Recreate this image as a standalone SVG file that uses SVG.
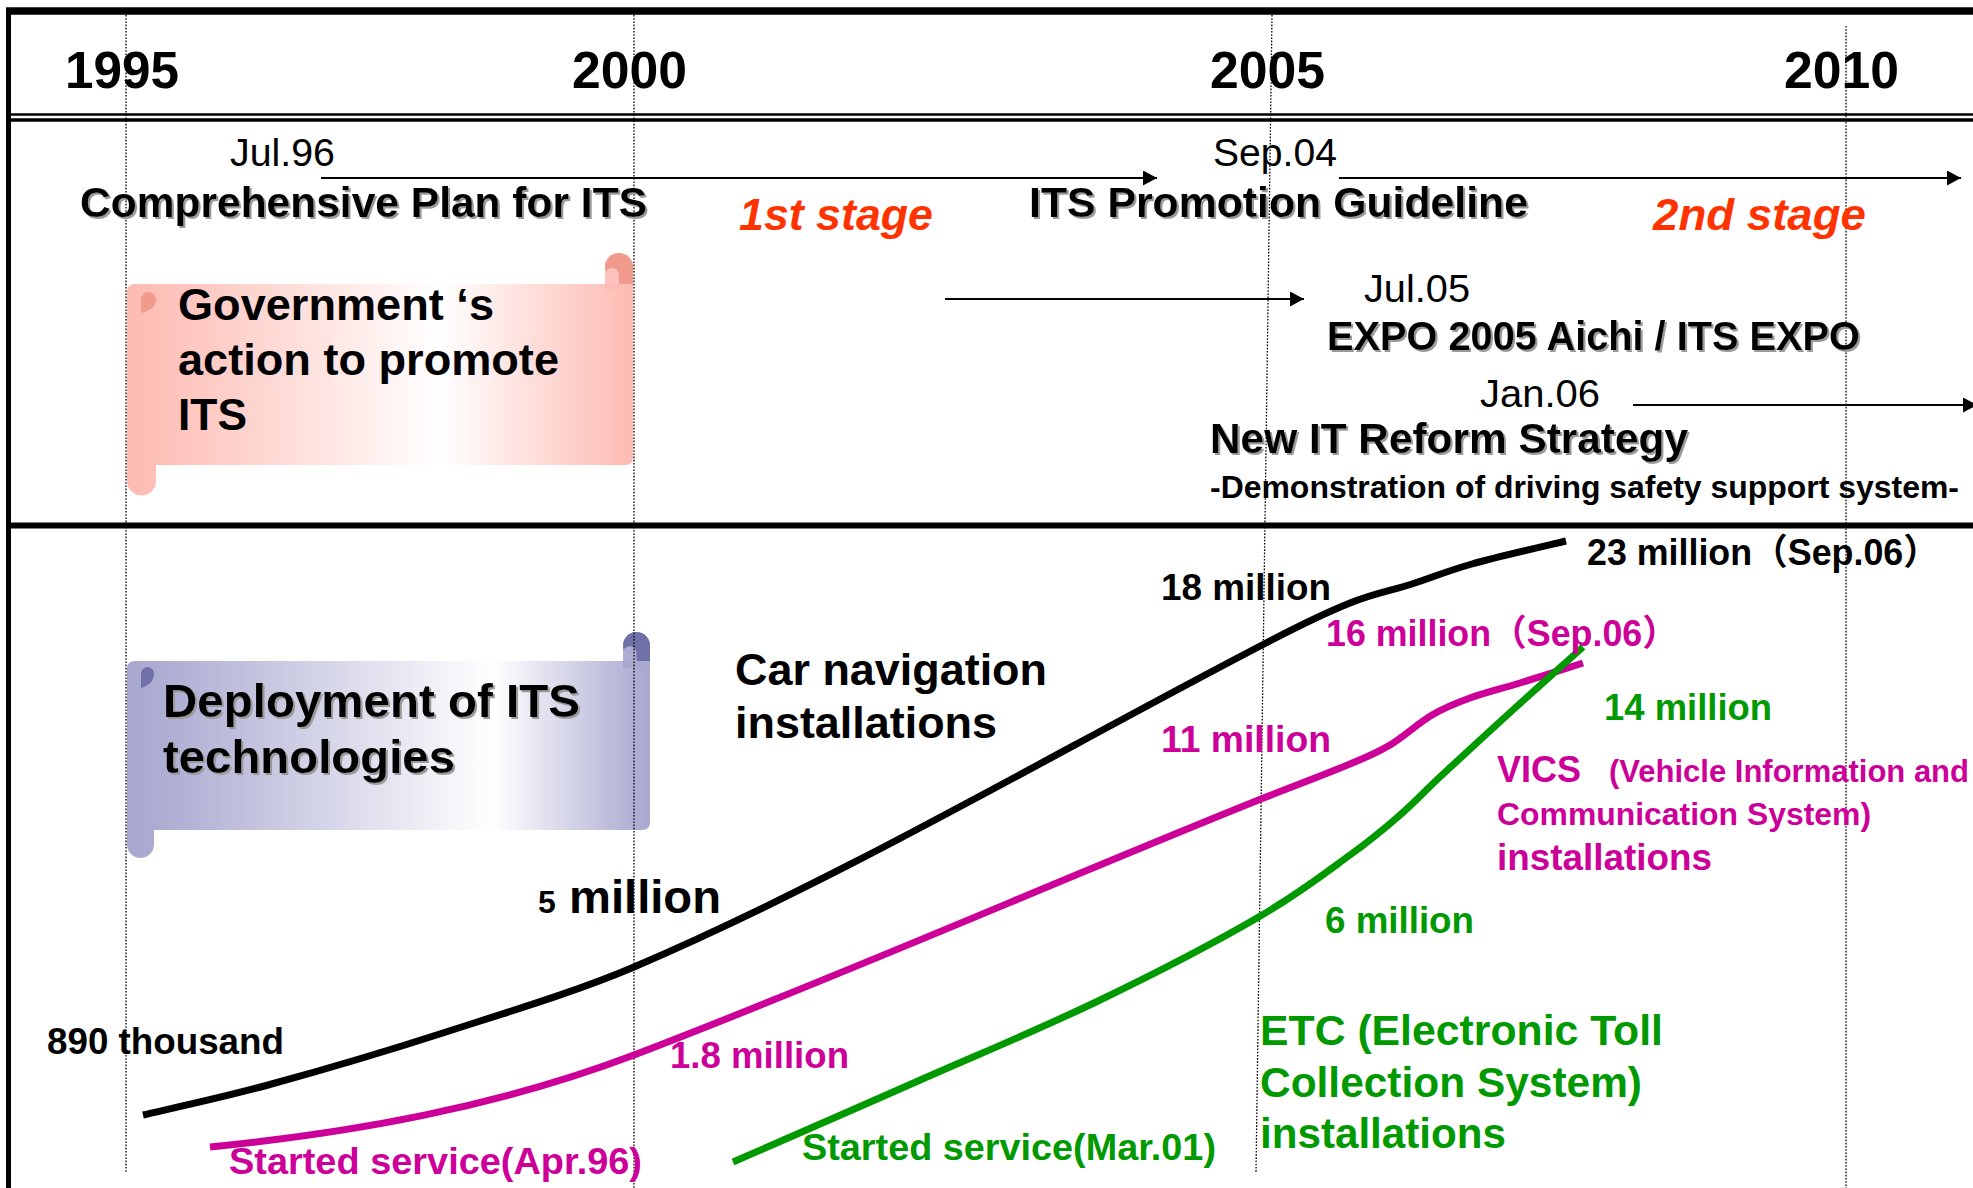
<svg xmlns="http://www.w3.org/2000/svg" width="1973" height="1188" viewBox="0 0 1973 1188">
<style>
.t{font-family:"Liberation Sans",Arial,"Noto Sans CJK JP",sans-serif}
.b{font-weight:bold}
.mag{fill:#CC0099}
.grn{fill:#009900}
.org{fill:#FF3300;font-style:italic;font-weight:bold;font-size:44px}
.yr{font-size:52px;font-weight:bold}
.date{font-size:39px}
.head{font-size:42px;font-weight:bold}
.lbl{font-size:36px;font-weight:bold}
.dot{stroke:#000;stroke-width:1.3;stroke-dasharray:1.6 1.6;fill:none}
.frame{stroke:#000;fill:none}
.curve{fill:none;stroke-width:7;stroke-linecap:butt;stroke-linejoin:round}
.arr{stroke:#000;stroke-width:2;fill:none;marker-end:url(#ah)}
</style>
<defs>
<marker id="ah" markerUnits="userSpaceOnUse" markerWidth="16" markerHeight="16" refX="14" refY="7.5" orient="auto">
<path d="M0,0 L14,7.5 L0,15 Z" fill="#000"/>
</marker>
<filter id="sh" x="-5%" y="-20%" width="110%" height="150%">
<feDropShadow dx="2" dy="2" stdDeviation="0.3" flood-color="#9a9a9a" flood-opacity="1"/>
</filter>
<linearGradient id="gPink" gradientUnits="userSpaceOnUse" x1="127" y1="0" x2="633" y2="0">
<stop offset="0" stop-color="#FDBAB2"/>
<stop offset="0.12" stop-color="#FEC6BF"/>
<stop offset="0.62" stop-color="#FFFFFF"/>
<stop offset="1" stop-color="#FDBAB2"/>
</linearGradient>
<linearGradient id="gBlue" gradientUnits="userSpaceOnUse" x1="127" y1="0" x2="650" y2="0">
<stop offset="0" stop-color="#A7A7CF"/>
<stop offset="0.12" stop-color="#B3B3D6"/>
<stop offset="0.7" stop-color="#FFFFFF"/>
<stop offset="1" stop-color="#A7A7CF"/>
</linearGradient>
</defs>
<rect x="0" y="0" width="1973" height="1188" fill="#fff"/>

<g id="banner-government">
<path d="M127,292 Q127,284 135,284 H633 V457 Q633,465 625,465 H127 Z" fill="url(#gPink)"/>
<path d="M127,460 V481 A14.5,14.5 0 0 0 156,481 V460 Z" fill="url(#gPink)"/>
<path d="M605,290 V267 A14,14 0 0 1 633,267 V290 Z" fill="#FDBDB5"/>
<circle cx="619" cy="267" r="14" fill="#EF9A8B"/>
<rect x="619" y="267" width="14" height="17" fill="#EF9A8B"/>
<path d="M605,284 V275 A7,7 0 0 1 619,275 V284 Z" fill="#FDC2BB"/>
<path d="M148.5,292 A7.5,7.5 0 0 1 156,299.5 Q156,309 141,313 V299.5 A7.5,7.5 0 0 1 148.5,292 Z" fill="#EF9A8B"/>
<text class="t b" font-size="44" x="178" y="320" textLength="316" lengthAdjust="spacingAndGlyphs">Government ‘s</text>
<text class="t b" font-size="44" x="178" y="375" textLength="381" lengthAdjust="spacingAndGlyphs">action to promote</text>
<text class="t b" font-size="44" x="178" y="430" textLength="69" lengthAdjust="spacingAndGlyphs">ITS</text>
</g>

<g id="banner-deployment">
<path d="M127,669 Q127,661 135,661 H650 V822 Q650,830 642,830 H127 Z" fill="url(#gBlue)"/>
<path d="M127,825 V844.5 A13.5,13.5 0 0 0 154,844.5 V825 Z" fill="url(#gBlue)"/>
<path d="M623,668 V645.5 A13.5,13.5 0 0 1 650,645.5 V668 Z" fill="#A9A9D0"/>
<circle cx="636.5" cy="645.5" r="13.5" fill="#7171AA"/>
<rect x="636.5" y="645.5" width="13.5" height="15.5" fill="#7171AA"/>
<path d="M623,661 V653 A6.75,6.75 0 0 1 636.5,653 V661 Z" fill="#ADADD3"/>
<path d="M147.5,667 A6.5,6.5 0 0 1 154,673.5 Q154,684 141,688 V673.5 A6.5,6.5 0 0 1 147.5,667 Z" fill="#7171AA"/>
<text class="t b" font-size="46" x="163" y="717" textLength="417" lengthAdjust="spacingAndGlyphs" filter="url(#sh)">Deployment of ITS</text>
<text class="t b" font-size="46" x="163" y="773" textLength="292" lengthAdjust="spacingAndGlyphs" filter="url(#sh)">technologies</text>
</g>

<g id="gridlines">
<line class="dot" x1="126" y1="15" x2="126" y2="1173"/>
<line class="dot" x1="634" y1="15" x2="634" y2="1188"/>
<line class="dot" x1="1272" y1="15" x2="1256" y2="1173"/>
<line class="dot" x1="1846" y1="26" x2="1846" y2="1188"/>
</g>

<g id="frame">
<line class="frame" x1="6" y1="11" x2="1973" y2="11" stroke-width="7.5"/>
<line class="frame" x1="8.5" y1="8" x2="8.5" y2="1188" stroke-width="5"/>
<line class="frame" x1="8" y1="114.5" x2="1973" y2="114.5" stroke-width="2.5"/>
<line class="frame" x1="8" y1="120" x2="1973" y2="120" stroke-width="3.5"/>
<line class="frame" x1="8" y1="525.5" x2="1973" y2="525.5" stroke-width="6"/>
</g>

<g id="years">
<text class="t yr" x="65" y="88" textLength="114" lengthAdjust="spacingAndGlyphs">1995</text>
<text class="t yr" x="572" y="88" textLength="115" lengthAdjust="spacingAndGlyphs">2000</text>
<text class="t yr" x="1210" y="88" textLength="115" lengthAdjust="spacingAndGlyphs">2005</text>
<text class="t yr" x="1784" y="88" textLength="115" lengthAdjust="spacingAndGlyphs">2010</text>
</g>

<g id="connectors">
<line class="arr" x1="321" y1="178" x2="1157" y2="178"/>
<line class="arr" x1="1339" y1="178" x2="1961" y2="178"/>
<line class="arr" x1="945" y1="299" x2="1304" y2="299"/>
<line class="arr" x1="1633" y1="405" x2="1977" y2="405"/>
</g>

<g id="milestone-comprehensive-plan">
<text class="t date" x="230" y="166" textLength="105" lengthAdjust="spacingAndGlyphs">Jul.96</text>
<text class="t head" x="80" y="217" textLength="567" lengthAdjust="spacingAndGlyphs" filter="url(#sh)">Comprehensive Plan for ITS</text>
</g>
<g id="stage-1">
<text class="t org" x="739" y="230" textLength="194" lengthAdjust="spacingAndGlyphs">1st stage</text>
</g>
<g id="milestone-promotion-guideline">
<text class="t date" x="1213" y="166" textLength="124" lengthAdjust="spacingAndGlyphs">Sep.04</text>
<text class="t head" x="1029" y="217" textLength="499" lengthAdjust="spacingAndGlyphs" filter="url(#sh)">ITS Promotion Guideline</text>
</g>
<g id="stage-2">
<text class="t org" x="1653" y="230" textLength="213" lengthAdjust="spacingAndGlyphs">2nd stage</text>
</g>
<g id="milestone-expo">
<text class="t date" x="1364" y="302" textLength="106" lengthAdjust="spacingAndGlyphs">Jul.05</text>
<text class="t b" font-size="40" x="1327" y="350" textLength="533" lengthAdjust="spacingAndGlyphs" filter="url(#sh)">EXPO 2005 Aichi / ITS EXPO</text>
</g>
<g id="milestone-it-reform">
<text class="t date" x="1480" y="407" textLength="120" lengthAdjust="spacingAndGlyphs">Jan.06</text>
<text class="t head" x="1210" y="453" textLength="478" lengthAdjust="spacingAndGlyphs" filter="url(#sh)">New IT Reform Strategy</text>
<text class="t b" font-size="31" x="1210" y="498" textLength="749" lengthAdjust="spacingAndGlyphs">-Demonstration of driving safety support system-</text>
</g>

<g id="curves">
<path class="curve" stroke="#000" d="M143,1115 C164,1110 217.5,1098.8 268,1085 C318.5,1071.2 385,1051.7 446,1032 C507,1012.3 578,991 634,967 C844,877 1056,752 1266,643 C1308,621 1325.7,612.8 1350,603 C1374.3,593.2 1391.7,590.5 1412,584 C1432.3,577.5 1446.3,571.2 1472,564 C1497.7,556.8 1550.3,544.8 1566,541"/>
<path class="curve" stroke="#CC0099" d="M210,1147 C350,1133 494,1108 634,1055 C834,979 1066,877 1266,797 C1294,786 1329.3,772.7 1350,764 C1370.7,755.3 1376.3,753.2 1390,745 C1403.7,736.7 1418.7,722.8 1432,715 C1445.3,707.2 1455.3,703.3 1470,698 C1484.7,692.7 1501.2,688.8 1520,683 C1538.8,677.2 1572.5,666.3 1583,663"/>
<path class="curve" stroke="#009900" d="M733,1162 C763.8,1148.5 857.5,1107.7 918,1081 C978.5,1054.3 1039.5,1029.2 1096,1002 C1152.5,974.8 1214.7,942.5 1257,918 C1299.3,893.5 1326.2,872.2 1350,855 C1373.8,837.8 1384.7,828.3 1400,815 C1415.3,801.7 1422.8,792.8 1442,775 C1461.2,757.2 1491.5,729.3 1515,708 C1538.5,686.7 1571.7,657.2 1583,647"/>
</g>

<g id="car-navigation">
<text class="t b" font-size="45" x="735" y="685" textLength="312" lengthAdjust="spacingAndGlyphs">Car navigation</text>
<text class="t b" font-size="45" x="735" y="738" textLength="262" lengthAdjust="spacingAndGlyphs">installations</text>
<text class="t lbl" x="47" y="1054" textLength="237" lengthAdjust="spacingAndGlyphs">890 thousand</text>
<text class="t b" x="538" y="913"><tspan font-size="32">5</tspan><tspan x="569" font-size="46" textLength="152" lengthAdjust="spacingAndGlyphs">million</tspan></text>
<text class="t lbl" x="1161" y="600" textLength="170" lengthAdjust="spacingAndGlyphs">18 million</text>
<text class="t lbl" x="1587" y="565" textLength="352" lengthAdjust="spacingAndGlyphs">23 million（Sep.06）</text>
</g>

<g id="vics">
<text class="t lbl mag" x="229" y="1174" font-size="35" textLength="413" lengthAdjust="spacingAndGlyphs">Started service(Apr.96)</text>
<text class="t lbl mag" x="670" y="1068" textLength="179" lengthAdjust="spacingAndGlyphs">1.8 million</text>
<text class="t lbl mag" x="1161" y="752" textLength="170" lengthAdjust="spacingAndGlyphs">11 million</text>
<text class="t lbl mag" x="1326" y="646" textLength="352" lengthAdjust="spacingAndGlyphs">16 million（Sep.06）</text>
<text class="t b mag" y="782"><tspan x="1497" font-size="36" textLength="84" lengthAdjust="spacingAndGlyphs">VICS</tspan><tspan x="1609" font-size="31" textLength="360" lengthAdjust="spacingAndGlyphs">(Vehicle Information and</tspan></text>
<text class="t b mag" font-size="32" x="1497" y="825" textLength="374" lengthAdjust="spacingAndGlyphs">Communication System)</text>
<text class="t lbl mag" x="1497" y="870" textLength="215" lengthAdjust="spacingAndGlyphs">installations</text>
</g>

<g id="etc">
<text class="t lbl grn" x="802" y="1160" font-size="35" textLength="414" lengthAdjust="spacingAndGlyphs">Started service(Mar.01)</text>
<text class="t lbl grn" x="1325" y="933" textLength="149" lengthAdjust="spacingAndGlyphs">6 million</text>
<text class="t lbl grn" x="1604" y="720" textLength="168" lengthAdjust="spacingAndGlyphs">14 million</text>
<text class="t b grn" font-size="42" x="1260" y="1045" textLength="403" lengthAdjust="spacingAndGlyphs">ETC (Electronic Toll</text>
<text class="t b grn" font-size="42" x="1260" y="1097" textLength="382" lengthAdjust="spacingAndGlyphs">Collection System)</text>
<text class="t b grn" font-size="42" x="1260" y="1148" textLength="246" lengthAdjust="spacingAndGlyphs">installations</text>
</g>
</svg>
